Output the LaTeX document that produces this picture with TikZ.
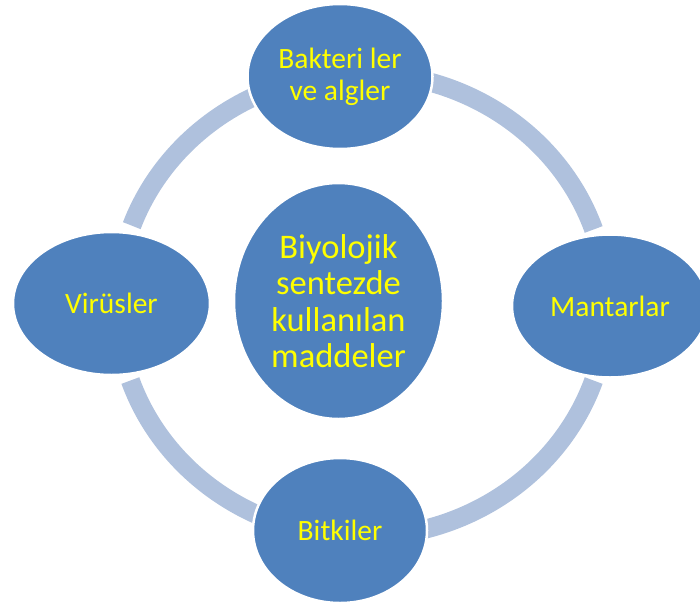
\documentclass[tikz,border=0pt]{standalone}
\usepackage{fontspec}
\setmainfont{Carlito}
\usetikzlibrary{shapes.geometric}
\definecolor{nodeblue}{HTML}{4F81BD}
\definecolor{ringblue}{HTML}{AFC1DD}
\definecolor{txtyellow}{HTML}{FFFF00}
\begin{document}
\begin{tikzpicture}[x=1pt,y=-1pt,
  blob/.style={ellipse, fill=nodeblue, draw=white, line width=2.5pt,
    text=txtyellow, align=center, inner sep=0pt},
  outertext/.style={font=\fontsize{29.5}{32}\selectfont},
  centertext/.style={font=\fontsize{34.5}{36.5}\selectfont},
  ringarc/.style={draw=ringblue, line width=19pt}]
\useasboundingbox (0,0) rectangle (700,608);
\clip (0,0) rectangle (700,608);
\coordinate (rc) at (362,305);
% ring segments
\draw[ringarc] (rc) ++(19:245pt and 232pt) arc[start angle=19, end angle=76, x radius=245pt, y radius=232pt];
\draw[ringarc] (rc) ++(116:245pt and 232pt) arc[start angle=116, end angle=160, x radius=245pt, y radius=232pt];
\draw[ringarc] (rc) ++(199:245pt and 232pt) arc[start angle=199, end angle=247, x radius=245pt, y radius=232pt];
\draw[ringarc] (rc) ++(284:245pt and 232pt) arc[start angle=284, end angle=341, x radius=245pt, y radius=232pt];
% nodes
\node[blob, outertext, minimum width=185pt, minimum height=145pt] (top) at (340,76.5) {Bakteri ler\\ve algler};
\node[blob, outertext, minimum width=197pt, minimum height=143pt] (left) at (111.5,303.5) {Virüsler};
\node[blob, outertext, minimum width=196pt, minimum height=143pt] (right) at (610,306) {Mantarlar};
\node[blob, outertext, minimum width=174pt, minimum height=145pt] (bottom) at (340,530.5) {Bitkiler};
\node[blob, centertext, minimum width=209pt, minimum height=236pt] (center) at (338.5,301) {Biyolojik\\sentezde\\kullanılan\\maddeler};
\end{tikzpicture}
\end{document}
